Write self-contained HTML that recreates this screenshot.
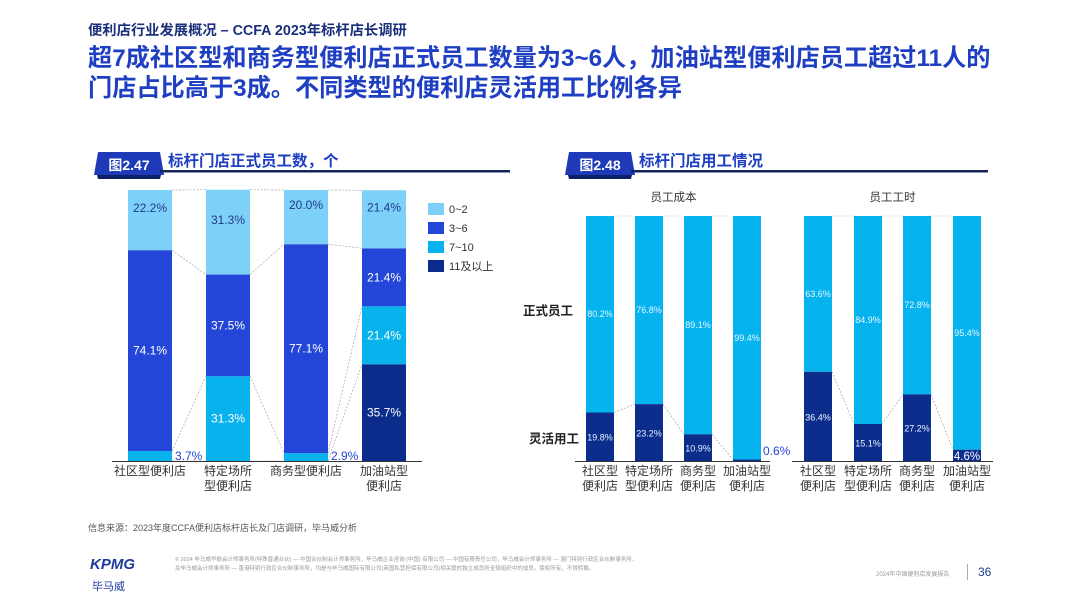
<!DOCTYPE html>
<html><head><meta charset="utf-8">
<style>
body{margin:0;background:#fff;}
#page{position:relative;width:1080px;height:608px;overflow:hidden;font-family:"Liberation Sans","Noto Sans CJK SC",sans-serif;background:#fff;}
.t{position:absolute;white-space:nowrap;}
</style></head>
<body>
<div id="page">
<div class="t" style="left:88px;top:19px;font-size:14.3px;color:#1b2f7a;font-weight:bold;">便利店行业发展概况 – CCFA 2023年标杆店长调研</div>
<div class="t" style="left:88px;top:44px;font-size:24.2px;line-height:30px;color:#1f3fc2;font-weight:bold;">超7成社区型和商务型便利店正式员工数量为3~6人，加油站型便利店员工超过11人的<br>门店占比高于3成。不同类型的便利店灵活用工比例各异</div>
<svg id="chart" width="1080" height="608" style="position:absolute;left:0;top:0"></svg>
<div class="t" style="left:88px;top:521px;font-size:9px;color:#555;">信息来源：2023年度CCFA便利店标杆店长及门店调研，毕马威分析</div>
<div class="t" style="left:90px;top:556px;font-size:15px;font-weight:bold;font-style:italic;color:#1e3a9a;">KPMG</div>
<div class="t" style="left:92px;top:578px;font-size:11px;color:#1e3a9a;">毕马威</div>
<div class="t" style="left:175px;top:556px;font-size:5.5px;line-height:9px;color:#999;">© 2024 毕马威华振会计师事务所(特殊普通合伙) — 中国合伙制会计师事务所，毕马威企业咨询 (中国) 有限公司 — 中国有限责任公司，毕马威会计师事务所 — 澳门特别行政区合伙制事务所，<br>及毕马威会计师事务所 — 香港特别行政区合伙制事务所，均是与毕马威国际有限公司(英国私营担保有限公司)相关联的独立成员所全球组织中的成员。版权所有，不得转载。</div>
<div class="t" style="left:876px;top:569px;font-size:6px;color:#999;">2024年中国便利店发展报告</div>
<div style="position:absolute;left:967px;top:564px;width:1px;height:16px;background:#aab;"></div>
<div class="t" style="left:978px;top:565px;font-size:12px;color:#1e3a8a;">36</div>
</div>
<script>
const NS="http://www.w3.org/2000/svg";
const svg=document.getElementById('chart');
function mk(tag,attrs,parent){const e=document.createElementNS(NS,tag);for(const k in attrs)e.setAttribute(k,attrs[k]);(parent||svg).appendChild(e);return e;}
function txt(x,y,s,size,color,anchor,weight){const e=mk('text',{x:x,y:y,'font-size':size,fill:color,'text-anchor':anchor||'middle','font-family':'"Liberation Sans","Noto Sans CJK SC",sans-serif','font-weight':weight||'normal'});e.textContent=s;return e;}

// ===== Chart 2.47 data =====
const cats1=[["社区型便利店"],["特定场所","型便利店"],["商务型便利店"],["加油站型","便利店"]];
const s02=[22.2,31.3,20.0,21.4];
const s36=[74.1,37.5,77.1,21.4];
const s710=[3.7,31.3,2.9,21.4];
const s11=[0,0,0,35.7];
const legend1=["0~2","3~6","7~10","11及以上"];
const colors1=["#7dd0f8","#2446d8","#08b2ec","#0b2c8a"];

// ===== Chart 2.48 data =====
const cats2=[["社区型","便利店"],["特定场所","型便利店"],["商务型","便利店"],["加油站型","便利店"]];
const costFormal=[80.2,76.8,89.1,99.4];
const costFlex=[19.8,23.2,10.9,0.6];
const hourFormal=[63.6,84.9,72.8,95.4];
const hourFlex=[36.4,15.1,27.2,4.6];
const panels=["员工成本","员工工时"];

function header(x,w,label,title){
  const b=mk('polygon',{points:`${x},${175} ${x+4},${152} ${x+66},${152} ${x+70},${175}`,fill:'#1f3ab8'});
  
  mk('polygon',{points:`${x+3},${175} ${x+67},${175} ${x+66},${179} ${x+4},${179}`,fill:'#0d2066'});
  txt(x+35,170,label,14,'#fff','middle','bold');
  const l=mk('rect',{x:x+66,y:170,width:w-66,height:2.5,fill:'#13245a'});
  
  const t=txt(x+74,166,title,15.5,'#1f3fc2','start','bold');
  
}
header(94,416,"图2.47","标杆门店正式员工数，个");
header(565,423,"图2.48","标杆门店用工情况");

// ===== Chart 1 =====
const top1=190,bot1=461,h1=bot1-top1;
const x1=i=>128+i*78, bw1=44;
const y1=v=>bot1-v/100*h1;
const series1=[s11,s710,s36,s02]; const col1=[colors1[3],colors1[2],colors1[1],colors1[0]];
const segs=[];
cats1.forEach((c,i)=>{
  let acc=0; segs[i]=[];
  series1.forEach((s,k)=>{
    const v=s[i]; const ya=y1(acc+v), yb=y1(acc);
    segs[i][k]=[ya,yb];
    if(v>0){
      const r=mk('rect',{x:x1(i),y:ya,width:bw1,height:yb-ya,fill:col1[k]});
      
      const lbl=v.toFixed(1)+'%';
      if(v<5){const t=txt(x1(i)+bw1+3,yb-1,lbl,12,'#2446d8','start');}
      else{const tc=k===3?'#1f3a8a':'#fff';const t=txt(x1(i)+bw1/2,(ya+yb)/2+(k===3?-8:4),lbl,12,tc);}
    }
    acc+=v;
  });
  c.forEach((ln,j)=>{const t=txt(x1(i)+bw1/2,475+j*15,ln,12,'#333');});
});
for(let i=0;i<cats1.length-1;i++){
  for(let k=0;k<4;k++){
    const a=segs[i][k],b=segs[i+1][k]; if(!a||!b)continue;
    mk('line',{x1:x1(i)+bw1,y1:a[0],x2:x1(i+1),y2:b[0],stroke:'#999','stroke-width':0.6,'stroke-dasharray':'2,1.5'});
  }
}
const ax1=mk('line',{x1:112,y1:bot1+0.5,x2:422,y2:bot1+0.5,stroke:'#333','stroke-width':1});

legend1.forEach((l,i)=>{
  const r=mk('rect',{x:428,y:203+i*19,width:16,height:12,fill:colors1[i]});
  
  const t=txt(449,213+i*19,l,11,'#333','start');
});

// ===== Chart 2 =====
const top2=216,bot2=461,h2=bot2-top2;
const y2=v=>bot2-v/100*h2;
const bw2=28;
const panelX=[[586,635,684,733],[804,854,903,953]];
const panelAxis=[[575,770],[792,993]];
[[costFormal,costFlex],[hourFormal,hourFlex]].forEach((pd,p)=>{
  const [formal,flex]=pd; const xs=panelX[p];
  const pt=txt((xs[0]+xs[3]+bw2)/2,201,panels[p],11.5,'#333');
  cats2.forEach((c,i)=>{
    const yf=y2(flex[i]);
    const r1=mk('rect',{x:xs[i],y:y2(flex[i]+formal[i]),width:bw2,height:yf-y2(flex[i]+formal[i]),fill:'#05b3ef'});
    
    const r2=mk('rect',{x:xs[i],y:yf,width:bw2,height:bot2-yf,fill:'#0d2d8c'});
    
    const tf=txt(xs[i]+bw2/2,(y2(100)+yf)/2+3,formal[i].toFixed(1)+'%',9,'#e8f6ff');
    if(flex[i]<2){const t=txt(xs[i]+bw2+2,bot2-6,flex[i].toFixed(1)+'%',12,'#2446d8','start');}
    else if(flex[i]<6){const t=txt(xs[i]+bw2/2,bot2-1,flex[i].toFixed(1)+'%',11.5,'#fff');}
    else{const t=txt(xs[i]+bw2/2,(yf+bot2)/2+4,flex[i].toFixed(1)+'%',9,'#e8f6ff');}
    c.forEach((ln,j)=>{const t=txt(xs[i]+bw2/2,475+j*15,ln,12,'#333');});
    if(i<3){
      mk('line',{x1:xs[i]+bw2,y1:yf,x2:xs[i+1],y2:y2(flex[i+1]),stroke:'#999','stroke-width':0.6,'stroke-dasharray':'2,1.5'});
      mk('line',{x1:xs[i]+bw2,y1:top2,x2:xs[i+1],y2:top2,stroke:'#bbb','stroke-width':0.6,'stroke-dasharray':'2,1.5'});
    }
  });
  const ax=mk('line',{x1:panelAxis[p][0],y1:bot2+0.5,x2:panelAxis[p][1],y2:bot2+0.5,stroke:'#333','stroke-width':1});
  
});
const r1=txt(523,315,"正式员工",12.5,'#222','start','bold');
const r2=txt(529,443,"灵活用工",12.5,'#222','start','bold');
</script>
</body></html>
